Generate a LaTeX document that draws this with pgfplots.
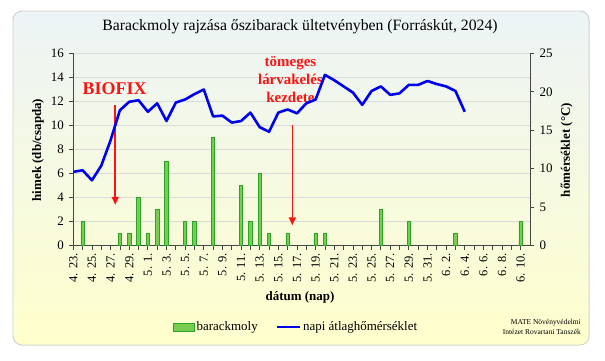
\documentclass[border=0pt]{standalone}
\usepackage{fontspec}
\setmainfont{Liberation Serif}
\usepackage{pgfplots}
\pgfplotsset{compat=1.18}
\usetikzlibrary{arrows.meta}
\definecolor{barfill}{RGB}{120,205,80}
\definecolor{baredge}{RGB}{40,165,40}
\definecolor{tline}{RGB}{0,0,240}
\definecolor{annred}{RGB}{250,20,20}
\definecolor{bgtop}{RGB}{236,244,246}
\definecolor{bgmid}{RGB}{248,250,220}
\definecolor{bgbot}{RGB}{255,255,204}
\definecolor{axisgray}{RGB}{70,70,70}
\begin{document}
\begin{tikzpicture}[x=1bp,y=1bp]
\fill[white] (0,0) rectangle (605,360);
\useasboundingbox (0,0) rectangle (605,360);
\shade[rounded corners=9, top color=bgtop, middle color=bgmid, bottom color=bgbot] (13,15) rectangle (589,349);
\draw[rounded corners=9, draw=black!18, line width=1] (13,15) rectangle (589,349);
\node[font=\fontsize{15.8}{18}\selectfont] at (300,333) {Barackmoly rajzása őszibarack ültetvényben (Forráskút, 2024)};

\begin{axis}[
  at={(73.3bp,114.3bp)}, anchor=south west,
  scale only axis, width=456.7bp, height=192.4bp,
  xmin=0, xmax=49, ymin=0, ymax=16,
  axis x line*=bottom, axis y line*=left,
  axis line style={axisgray, line width=1bp, -},
  ytick={0,2,...,16},
  ymajorgrids, grid style={draw=black!14, line width=0.9bp},
  xtick={0,2,...,48}, minor xtick={1,3,...,47},
  xticklabels={4. 23.,4. 25.,4. 27.,4. 29.,5. 1.,5. 3.,5. 5.,5. 7.,5. 9.,5. 11.,5. 13.,5. 15.,5. 17.,5. 19.,5. 21.,5. 23.,5. 25.,5. 27.,5. 29.,5. 31.,6. 2.,6. 4.,6. 6.,6. 8.,6. 10.},
  xticklabel style={rotate=90, anchor=east, font=\fontsize{12.5}{14}\selectfont},
  yticklabel style={font=\fontsize{13}{15}\selectfont, xshift=-2bp},
  /pgf/number format/assume math mode=true,
  tick align=outside, major tick length=4bp, minor tick length=4bp,
  tick style={axisgray, line width=0.8bp},
  every tick/.style={axisgray, line width=0.8bp},
  clip=false,
]
\addplot[ybar, bar width=3.4bp, fill=barfill, draw=baredge, line width=0.7bp] coordinates {
(1,2) (5,1) (6,1) (7,4) (8,1) (9,3) (10,7) (12,2) (13,2) (15,9)
(18,5) (19,2) (20,6) (21,1) (23,1) (26,1) (27,1) (33,3) (36,2) (41,1) (48,2)
};
\node[annred, font=\bfseries\fontsize{18}{20}\selectfont] at (axis cs:4.43,13.1) {BIOFIX};
\draw[annred, line width=1.6bp, -{Triangle[length=8bp,width=7bp]}] (axis cs:4.5,11.7) -- (axis cs:4.5,3.4);
\node[annred, font=\bfseries\fontsize{15}{18}\selectfont, align=center] at (axis cs:23.3,13.78) {tömeges\\lárvakelés\\kezdete};
\draw[annred, line width=1.6bp, -{Triangle[length=8bp,width=7bp]}] (axis cs:23.5,10.0) -- (axis cs:23.5,1.7);
\end{axis}

\begin{axis}[
  at={(73.3bp,114.3bp)}, anchor=south west,
  scale only axis, width=456.7bp, height=192.4bp,
  xmin=0, xmax=49, ymin=0, ymax=25,
  axis y line*=right, axis x line=none,
  axis line style={axisgray, line width=1bp, -},
  ytick={0,5,...,25},
  yticklabel style={font=\fontsize{13}{15}\selectfont, xshift=2bp},
  /pgf/number format/assume math mode=true,
  tick align=outside, major tick length=4bp,
  every tick/.style={axisgray, line width=0.8bp},
  legend columns=2,
  legend style={at={(0.4876,-0.4226)}, anchor=center, draw=none, fill=none,
    font=\fontsize{13}{15}\selectfont, inner sep=0pt,
    /tikz/every even column/.append style={column sep=16bp}},
]
\addlegendimage{legend image code/.code={\draw[fill=barfill, draw=baredge, line width=0.8bp] (0bp,-4bp) rectangle (21bp,4bp);}}
\addlegendentry{barackmoly}
\addplot[tline, line width=2.6bp, line join=round, mark=none,
  legend image code/.code={\draw[tline, line width=2.4bp] (0bp,0bp) -- (23bp,0bp);}] coordinates {
(0,9.6) (1,9.8) (2,8.5) (3,10.4) (4,13.7) (5,17.6) (6,18.7) (7,18.9) (8,17.4) (9,18.5)
(10,16.2) (11,18.6) (12,19.0) (13,19.7) (14,20.3) (15,16.8) (16,16.9) (17,16.0) (18,16.2) (19,17.3)
(20,15.4) (21,14.8) (22,17.3) (23,17.7) (24,17.2) (25,18.5) (26,19.0) (27,22.2) (28,21.5) (29,20.7)
(30,19.9) (31,18.3) (32,20.1) (33,20.7) (34,19.6) (35,19.8) (36,20.9) (37,20.9) (38,21.4) (39,21.0)
(40,20.7) (41,20.1) (42,17.4)
};
\addlegendentry{napi átlaghőmérséklet}
\end{axis}

\node[rotate=90, font=\bfseries\fontsize{13}{15}\selectfont] at (38,210) {himek (db/csapda)};
\node[rotate=90, font=\bfseries\fontsize{13}{15}\selectfont] at (566.7,210) {hőmérséklet (°C)};
\node[font=\bfseries\fontsize{13}{15}\selectfont] at (300,63) {dátum (nap)};
\node[font=\fontsize{7.5}{9.5}\selectfont, align=right, anchor=east, inner sep=0pt] at (581,33) {MATE Növényvédelmi\\Intézet Rovartani Tanszék};
\end{tikzpicture}
\end{document}
